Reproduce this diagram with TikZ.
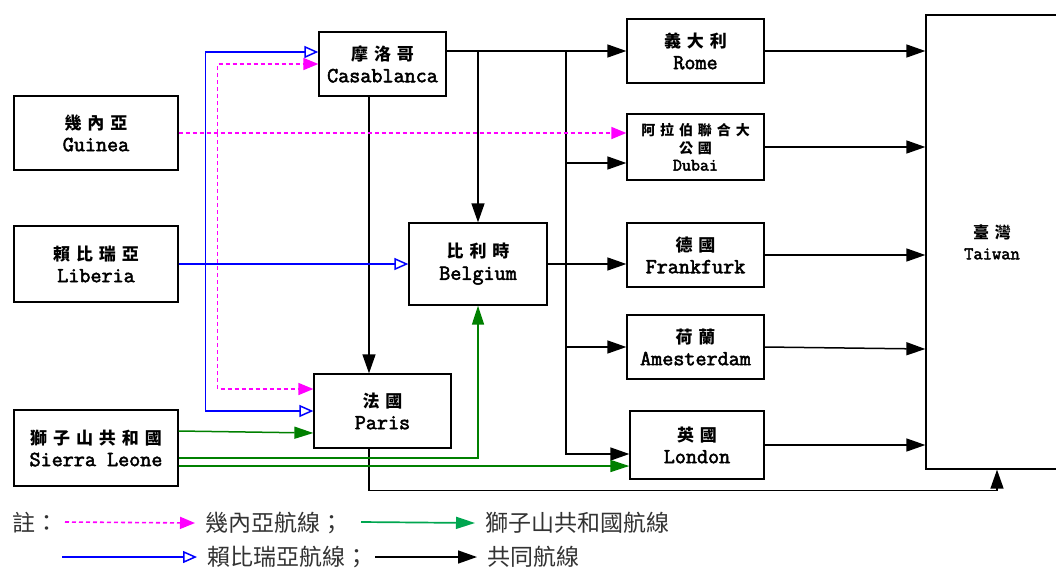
\documentclass[tikz,border=0pt]{standalone}
\usepackage{fontspec}
\usetikzlibrary{arrows.meta, calc, positioning}
\newfontfamily\cjk[LetterSpace=35]{Noto Sans CJK TC}
\newfontfamily\cjkthin{Noto Sans CJK TC}
\newfontfamily\latn[AutoFakeBold=2.5]{Latin Modern Mono}
\definecolor{slgreen}{RGB}{0,128,0}
\definecolor{keygreen}{RGB}{0,166,80}
\definecolor{pinkline}{RGB}{255,0,255}
\newcommand{\zh}[1]{{\cjk\bfseries\fontsize{17}{22}\selectfont #1}}
\newcommand{\zhs}[1]{{\cjk\bfseries\fontsize{14}{17.5}\selectfont #1}}

\begin{document}
\begin{tikzpicture}[x=1pt, y=-1pt,
    box/.style={draw, line width=1.3pt, align=center, inner sep=0pt, font=\latn\bfseries\fontsize{21.5}{22}\selectfont},
    common/.style={line width=1.5pt, -{Triangle[length=19pt, width=13pt]}},
    guinealine/.style={color=pinkline, line width=1.6pt, dash pattern=on 4pt off 3pt, -{Triangle[length=15pt, width=12pt]}},
    liberialine/.style={color=blue, line width=1.5pt, -{Triangle[open, length=14pt, width=12pt]}},
    sierraline/.style={color=slgreen, line width=1.5pt, -{Triangle[length=19pt, width=12pt]}},
    key/.style={anchor=west, inner xsep=10pt, inner ysep=0pt, text=black!80, font=\cjkthin\fontsize{23}{24}\selectfont}]
  \useasboundingbox (0,0) rectangle (1056,568);

  \node[box, minimum width=164pt, minimum height=74pt] (guinea) at (96,133) {\zh{幾內亞}\\Guinea};
  \node[box, minimum width=164pt, minimum height=76pt] (liberia) at (96,264) {\zh{賴比瑞亞}\\Liberia};
  \node[box, minimum width=164pt, minimum height=76pt] (sierra) at (96,448) {\zh{獅子山共和國}\\Sierra Leone};
  \node[box, minimum width=127pt, minimum height=64pt] (casa) at (382.5,64) {\zh{摩洛哥}\\Casablanca};
  \node[box, minimum width=138pt, minimum height=82pt] (belgium) at (478,264) {\zh{比利時}\\Belgium};
  \node[box, minimum width=137pt, minimum height=74pt] (paris) at (382.5,411) {\zh{法國}\\Paris};
  \node[box, minimum width=137pt, minimum height=64pt] (rome) at (695.5,51) {\zh{義大利}\\Rome};
  \node[box, minimum width=137pt, minimum height=66pt, font=\latn\bfseries\fontsize{17.5}{17.5}\selectfont] (dubai) at (695.5,147)
    {\zhs{阿拉伯聯合大}\\\zhs{公國}\\Dubai};
  \node[box, minimum width=137pt, minimum height=64pt] (frank) at (695.5,255) {\zh{德國}\\Frankfurk};
  \node[box, minimum width=137pt, minimum height=64pt] (amst) at (695.5,347) {\zh{荷蘭}\\Amesterdam};
  \node[box, minimum width=134pt, minimum height=68pt] (london) at (697,445) {\zh{英國}\\London};
  \node[box, minimum width=132pt, minimum height=454pt, font=\latn\bfseries\fontsize{18}{21}\selectfont] (taiwan) at (992,242)
    {{\cjk\bfseries\fontsize{16}{21}\selectfont 臺灣}\\Taiwan};
  \coordinate (trunk) at (566,51);

  \draw[common] (casa.east |- rome.west) -- (rome.west);
  \draw[common] (belgium.north |- rome.west) -- (belgium.north);
  \draw[common] (trunk) |- ([yshift=-9pt]london.west);
  \draw[common] ([yshift=-16pt]dubai.west -| trunk) -- ([yshift=-16pt]dubai.west);
  \draw[common] (trunk |- amst.west) -- (amst.west);
  \draw[common] (belgium.east) -- (belgium.east -| frank.west);
  \draw[common] ([xshift=-13.5pt]casa.south) -- ([xshift=-13.5pt]paris.north);
  \draw[common] ([xshift=-13.5pt]paris.south) -- ++(0,42) -| ([xshift=5pt]taiwan.south);
  \draw[common] (rome.east) -- (rome.east -| taiwan.west);
  \draw[common] (dubai.east) -- (dubai.east -| taiwan.west);
  \draw[common] (frank.east) -- (frank.east -| taiwan.west);
  \draw[common] (amst.east) -- ([yshift=-2pt]amst.east -| taiwan.west);
  \draw[common] (london.east) -- (london.east -| taiwan.west);

  \draw[guinealine] (guinea.east) -- (guinea.east -| dubai.west);
  \draw[guinealine] ([xshift=39pt]guinea.east) |- (casa.west);
  \draw[guinealine] ([xshift=39pt]guinea.east) |- ([yshift=22pt]paris.west);

  \draw[liberialine] (liberia.east) -- (liberia.east -| belgium.west);
  \draw[liberialine] ([xshift=27pt]liberia.east) |- ([yshift=12pt]casa.west);
  \draw[liberialine] ([xshift=27pt]liberia.east) |- (paris.west);

  \draw[sierraline] ([yshift=17pt]sierra.east) -- ([yshift=-22pt]paris.west);
  \draw[sierraline] ([yshift=-10pt]sierra.east) -| (belgium.south);
  \draw[sierraline] ([yshift=-18pt]sierra.east) -- ([yshift=-18pt]sierra.east -| london.west);

  \node[key, inner xsep=0pt] (note) at (12,523) {註：};
  \node[key] (kguinea) at (195,523) {幾內亞航線；};
  \node[key] (ksierra) at (475,523) {獅子山共和國航線};
  \node[key] (kliberia) at (197,557) {賴比瑞亞航線；};
  \node[key] (kcommon) at (477,557) {共同航線};
  \coordinate (kg) at (65,522);
  \coordinate (ks) at (361,522);
  \coordinate (kl) at (62,557);
  \coordinate (kc) at (375,557);
  \draw[guinealine] (kg) -- (kguinea.west);
  \draw[sierraline, color=keygreen, line width=1.7pt] (ks) -- (ksierra.west);
  \draw[liberialine] (kl) -- (kliberia.west);
  \draw[common] (kc) -- (kcommon.west);
\end{tikzpicture}
\end{document}
